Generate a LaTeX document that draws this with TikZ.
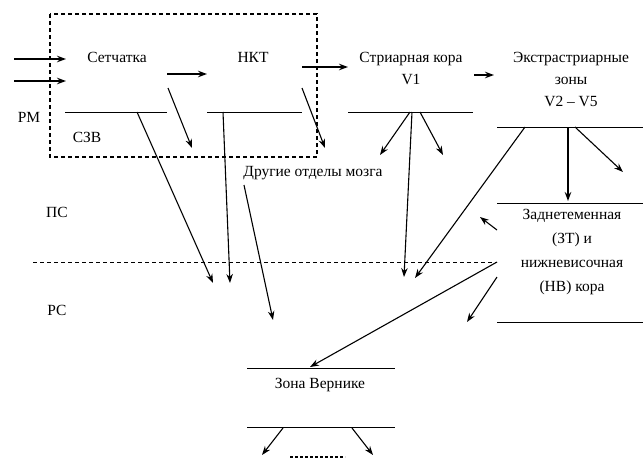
\documentclass[tikz,border=0pt]{standalone}
\usepackage{fontspec}
\setmainfont{Liberation Serif}
\usetikzlibrary{arrows.meta,positioning}

\begin{document}
\begin{tikzpicture}[
  x=1pt, y=-1pt,
  ->, >={Stealth[length=9pt,width=6.5pt]},
  lbl/.style={font=\fontsize{15.5}{22}\selectfont, align=center, inner sep=0pt},
  bar/.style={-, line width=0.9pt},
  fat/.style={line width=1.8pt},
  thin/.style={line width=1.1pt},
  zone/.style={-, dashed, line width=0.9pt, dash pattern=on 4pt off 3pt},
]
  \useasboundingbox (0,0) rectangle (643,459);

  % Blocks
  \node[lbl] (ret) at (117,57) {Сетчатка};
  \node[lbl] (nkt) at (253,57) {НКТ};
  \node[lbl] (v1) at (411,68) {Стриарная кора\\V1};
  \node[lbl] (v25) at (571,79) {Экстрастриарные\\зоны\\V2 – V5};
  \node[lbl, font=\fontsize{15.5}{24}\selectfont] (zt) at (572,252)
    {Заднетеменная\\(ЗТ) и\\нижневисочная\\(НВ) кора};
  \node[lbl] (wer) at (320,385) {Зона Вернике};
  \node[lbl] (other) at (313,173) {Другие отделы мозга};

  % Levels
  \node[lbl] (rm) at (29,117) {РМ};
  \node[lbl] (szv) at (87,137) {СЗВ};
  \node[lbl] (ps) at (57,212) {ПС};
  \node[lbl] (rs) at (57,310) {РС};

  % Block edges
  \coordinate (retL) at (65,112);  \coordinate (retR) at (167,112);
  \coordinate (nktL) at (207,112); \coordinate (nktR) at (302,112);
  \coordinate (v1L) at (348,112);  \coordinate (v1R) at (473,112);
  \coordinate (v25L) at (497,127); \coordinate (v25R) at (643,127);
  \coordinate (ztTL) at (497,203); \coordinate (ztTR) at (643,203);
  \coordinate (ztBL) at (497,322); \coordinate (ztBR) at (643,322);
  \coordinate (werTL) at (247,368); \coordinate (werTR) at (395,368);
  \coordinate (werBL) at (247,427); \coordinate (werBR) at (395,427);
  \draw[bar] (retL) -- (retR);
  \draw[bar] (nktL) -- (nktR);
  \draw[bar] (v1L) -- (v1R);
  \draw[bar] (v25L) -- (v25R);
  \draw[bar] (ztTL) -- (ztTR);
  \draw[bar] (ztBL) -- (ztBR);
  \draw[bar] (werTL) -- (werTR);
  \draw[bar] (werBL) -- (werBR);

  % SZV frame and PS/RS border
  \draw[zone, line width=1.5pt] (50,14) rectangle (317,157);
  \coordinate (psL) at (33,262);
  \coordinate (psR) at (497,262);
  \draw[zone] (psL) -- (psR);

  % Inputs
  \coordinate (in1) at (14,59);  \coordinate (in1e) at (66,59);
  \coordinate (in2) at (14,81);  \coordinate (in2e) at (66,81);
  \draw[fat] (in1) -- (in1e);
  \draw[fat] (in2) -- (in2e);

  % Main stream
  \coordinate (a1) at (167,74);  \coordinate (a1e) at (207,74);
  \coordinate (a2) at (302,67);  \coordinate (a2e) at (348,67);
  \coordinate (a3) at (474,75);  \coordinate (a3e) at (494,75);
  \draw[fat] (a1) -- (a1e);
  \draw[fat] (a2) -- (a2e);
  \draw[fat] (a3) -- (a3e);

  % Side branches
  \coordinate (b1) at (168,88);  \coordinate (b1e) at (192,148);
  \coordinate (b2) at (302,88);  \coordinate (b2e) at (325,148);
  \draw[thin] (b1) -- (b1e);
  \draw[thin] (b2) -- (b2e);

  % Down to RS
  \coordinate (d1) at (137,112); \coordinate (d1e) at (213,283);
  \coordinate (d2) at (223,112); \coordinate (d2e) at (230,283);
  \coordinate (d3) at (244,185); \coordinate (d3e) at (273,320);
  \draw[thin] (d1) -- (d1e);
  \draw[thin] (d2) -- (d2e);
  \draw[thin] (d3) -- (d3e);

  % From V1
  \coordinate (c1) at (410,112); \coordinate (c1e) at (380,155);
  \coordinate (c2) at (420,112); \coordinate (c2e) at (443,155);
  \coordinate (c3) at (412,112); \coordinate (c3e) at (404,277);
  \draw[thin] (c1) -- (c1e);
  \draw[thin] (c2) -- (c2e);
  \draw[thin] (c3) -- (c3e);

  % From V2-V5
  \coordinate (e1) at (525,127); \coordinate (e1e) at (415,278);
  \coordinate (e2) at (568,127); \coordinate (e2e) at (568,201);
  \coordinate (e3) at (575,127); \coordinate (e3e) at (623,172);
  \draw[thin] (e1) -- (e1e);
  \draw[fat] (e2) -- (e2e);
  \draw[thin] (e3) -- (e3e);

  % From ZT/NV
  \coordinate (f1) at (497,230); \coordinate (f1e) at (480,217);
  \coordinate (f2) at (497,262); \coordinate (f2e) at (310,367);
  \coordinate (f3) at (497,277); \coordinate (f3e) at (467,322);
  \draw[thin] (f1) -- (f1e);
  \draw[thin] (f2) -- (f2e);
  \draw[thin] (f3) -- (f3e);

  % From Wernicke
  \coordinate (g1) at (283,428); \coordinate (g1e) at (262,455);
  \coordinate (g2) at (352,428); \coordinate (g2e) at (373,455);
  \draw[thin] (g1) -- (g1e);
  \draw[thin] (g2) -- (g2e);
  \coordinate (dotsL) at (290,457);
  \coordinate (dotsR) at (345,457);
  \draw[-, line width=2.5pt, dash pattern=on 3pt off 2pt] (dotsL) -- (dotsR);
\end{tikzpicture}
\end{document}
